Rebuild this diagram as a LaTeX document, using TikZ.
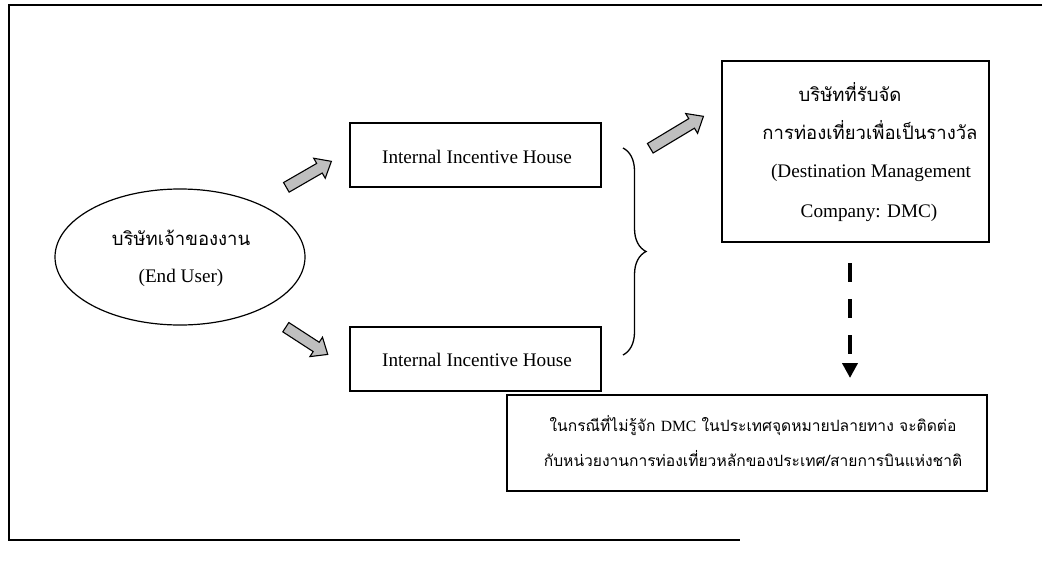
\documentclass[tikz,border=0pt]{standalone}
\usepackage{fontspec}
\setmainfont{Liberation Serif}
\newfontfamily\thaifont[Script=Thai]{Loma}
\newfontfamily\serifabbr{Liberation Serif}
\usetikzlibrary{shapes.geometric,shapes.arrows,arrows.meta,decorations.pathreplacing,calc}

\begin{document}
\begin{tikzpicture}[x=1pt,y=-1pt,
  frameline/.style={line width=1.3pt},
  box/.style={draw,line width=1.3pt,inner sep=0pt},
  latin/.style={font=\fontsize{19.2}{23}\selectfont},
  thaibig/.style={font=\thaifont\fontsize{18.5}{22}\selectfont},
  thaismall/.style={font=\thaifont\fontsize{15.6}{19}\selectfont},
  blockarrow/.style={single arrow,draw,line width=1.1pt,fill=black!25,
    inner sep=5pt,minimum width=23pt,single arrow head extend=6pt,
    single arrow tip angle=80},
  dasharrow/.style={line width=4pt,dash pattern=on 19pt off 17pt,
    -{Triangle[width=15pt,length=15pt]}}]
\useasboundingbox (0,0) rectangle (1048,575);

% outer frame
\coordinate (fbl) at (9,540);
\coordinate (ftl) at (9,5);
\coordinate (ftr) at (1042,5);
\coordinate (fbr) at (740,540);
\draw[frameline] (ftr) -- (ftl) -- (fbl) -- (fbr);

% end user
\node[draw,ellipse,line width=1.2pt,minimum width=250pt,minimum height=136pt] (user) at (180,257) {};
\node[thaibig] (usert) at (181,238) {บริษัทเจ้าของงาน};
\node[latin] (usere) at (181,278) {(End User)};

% incentive houses
\node[box,minimum width=251pt,minimum height=64pt] (ih1) at (475.5,155) {};
\node[latin] at (477,157) {Internal Incentive House};
\node[box,minimum width=251pt,minimum height=64pt] (ih2) at (475.5,359) {};
\node[latin] at (477,360) {Internal Incentive House};

% brace joining both houses
\coordinate (bt) at (623,148);
\coordinate (bb) at (623,355);
\draw[line width=1.3pt,decorate,decoration={brace,amplitude=23pt}] (bt) -- (bb);

% destination management company
\node[box,minimum width=267pt,minimum height=181pt] (dmc) at (855.5,151.5) {};
\node[thaibig] at (850,92) {บริษัทที่รับจัด};
\node[thaibig] at (870,130) {การท่องเที่ยวเพื่อเป็นรางวัล};
\node[latin] at (871,173) {(Destination Management};
\node[latin] at (869,213) {Company: DMC)};

% national tourism office note
\node[box,minimum width=480pt,minimum height=96pt] (note) at (747,443) {};
\node[thaismall] at (753,426) {ในกรณีที่ไม่รู้จัก {\serifabbr DMC} ในประเทศจุดหมายปลายทาง จะติดต่อ};
\node[thaismall] at (753,459) {กับหน่วยงานการท่องเที่ยวหลักของประเทศ/สายการบินแห่งชาติ};

% block arrows
\node[blockarrow,minimum height=52pt,rotate=30] (a1) at (306,176) {};
\node[blockarrow,minimum height=50pt,rotate=-33] (a2) at (304,339) {};
\node[blockarrow,minimum height=62pt,rotate=31] (a3) at (674,134) {};

% dashed arrow down to the note
\coordinate (ds) at (850,263);
\coordinate (de) at (850,378);
\draw[dasharrow] (ds) -- (de);
\end{tikzpicture}
\end{document}
